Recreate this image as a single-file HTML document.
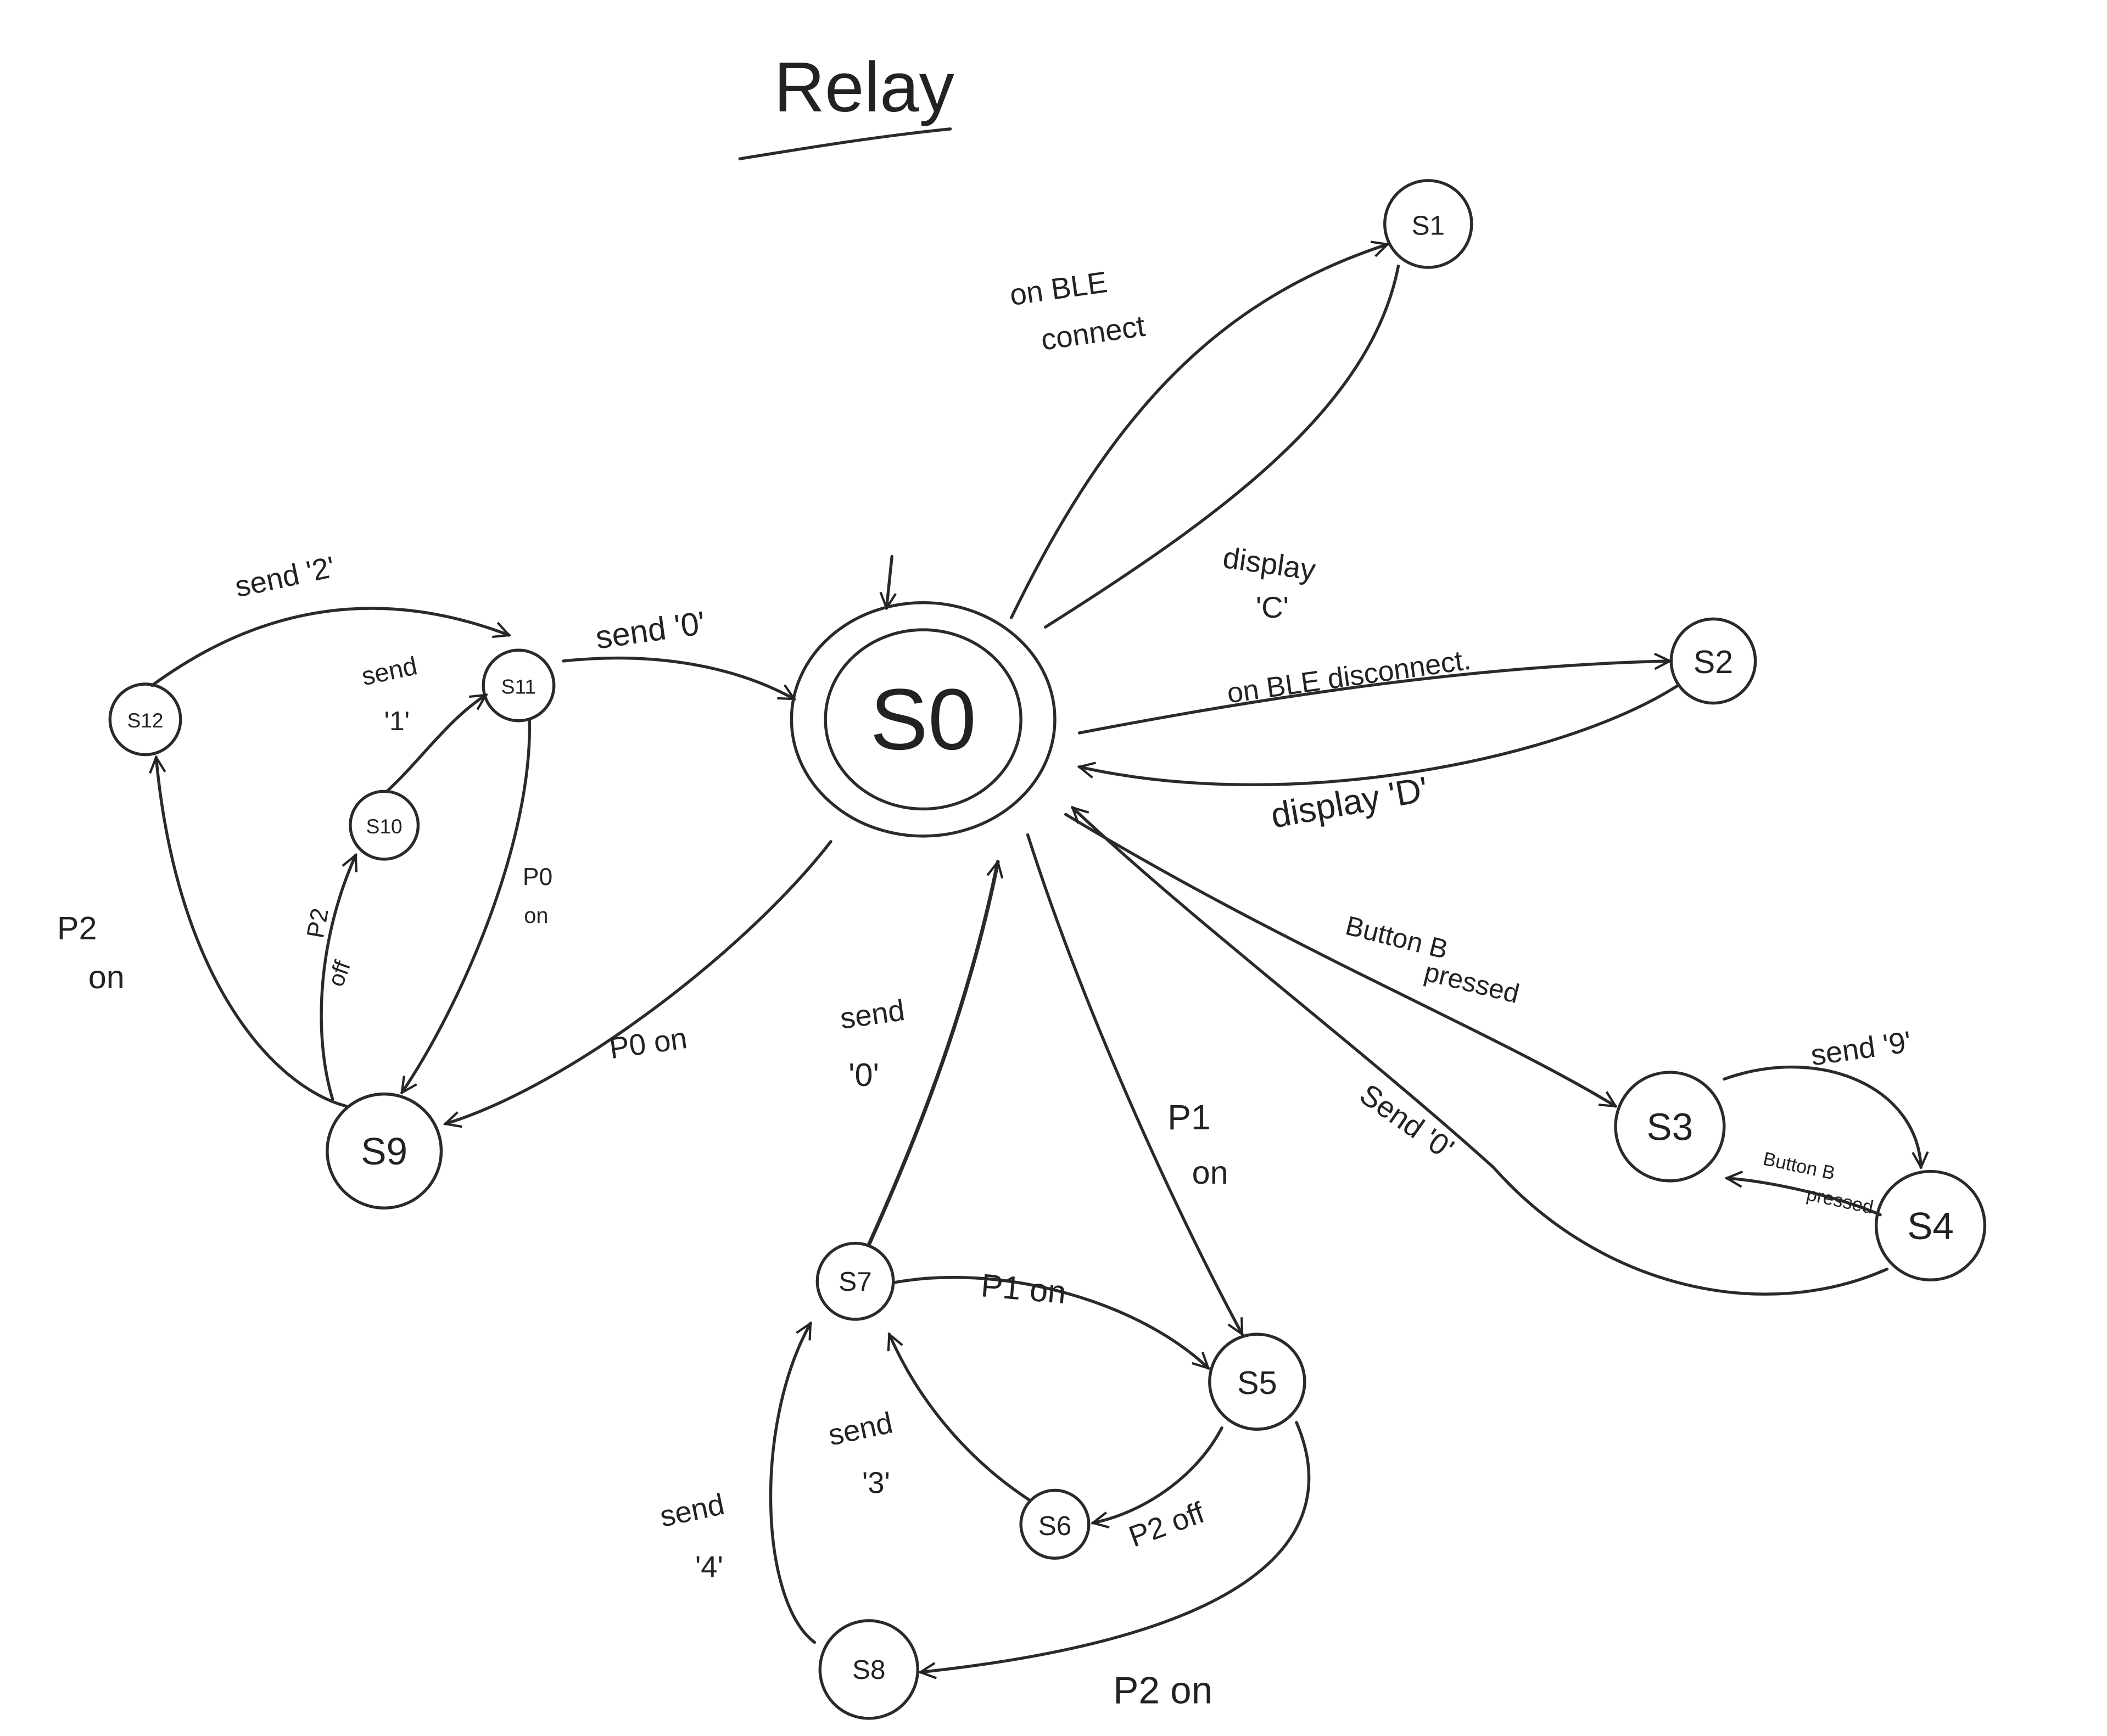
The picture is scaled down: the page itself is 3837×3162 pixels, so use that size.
<!DOCTYPE html>
<html><head><meta charset="utf-8">
<style>
html,body{margin:0;padding:0;background:#fff;}
svg{display:block;}
text{font-family:"Liberation Sans",sans-serif;fill:#222;}
</style></head>
<body>
<svg width="3837" height="3162" viewBox="0 0 1552 1279" xmlns="http://www.w3.org/2000/svg">
<defs>
<marker id="a" viewBox="0 0 20 20" refX="18" refY="10" markerWidth="14" markerHeight="14" markerUnits="userSpaceOnUse" orient="auto">
<path d="M2,2 L18,10 L2,18" fill="none" stroke="#222" stroke-width="2.4"/>
</marker>
</defs>
<rect width="1552" height="1279" fill="#fff"/>
<g fill="none" stroke="#2a2a2a" stroke-width="2.2" stroke-linecap="round">
<path d="M545,117 C600,108 650,100 700,95"/>
<ellipse cx="680" cy="530" rx="97" ry="86"/>
<ellipse cx="680" cy="530" rx="72" ry="66"/>
<circle cx="1052" cy="165" r="32"/>
<circle cx="1262" cy="487" r="31"/>
<circle cx="1230" cy="830" r="40"/>
<circle cx="1422" cy="903" r="40"/>
<circle cx="926" cy="1018" r="35"/>
<circle cx="777" cy="1123" r="25"/>
<circle cx="630" cy="944" r="28"/>
<circle cx="640" cy="1230" r="36"/>
<circle cx="283" cy="848" r="42"/>
<circle cx="283" cy="608" r="25"/>
<circle cx="382" cy="505" r="26"/>
<circle cx="107" cy="530" r="26"/>
<path d="M657,410 L653,448" marker-end="url(#a)"/>
<path d="M745,455 C820,300 900,220 1022,180" marker-end="url(#a)"/>
<path d="M1030,196 C1010,300 900,380 770,462"/>
<path d="M795,540 C950,510 1100,490 1230,487" marker-end="url(#a)"/>
<path d="M1236,505 C1150,560 950,600 795,565" marker-end="url(#a)"/>
<path d="M785,600 C950,700 1100,760 1190,815" marker-end="url(#a)"/>
<path d="M1390,935 C1300,975 1180,950 1100,860 C1000,770 880,680 790,595" marker-end="url(#a)"/>
<path d="M1270,795 C1340,770 1412,800 1415,860" marker-end="url(#a)"/>
<path d="M1385,895 C1350,880 1300,870 1272,868" marker-end="url(#a)"/>
<path d="M757,615 C800,750 870,900 915,983" marker-end="url(#a)"/>
<path d="M640,917 C670,850 712,750 735,635" marker-end="url(#a)" stroke-width="2.8"/>
<path d="M658,945 C740,930 840,960 890,1008" marker-end="url(#a)"/>
<path d="M900,1052 C880,1090 840,1115 805,1122" marker-end="url(#a)"/>
<path d="M758,1105 C720,1080 680,1040 655,983" marker-end="url(#a)"/>
<path d="M955,1048 C990,1130 930,1205 678,1232" marker-end="url(#a)"/>
<path d="M600,1210 C560,1180 555,1050 597,975" marker-end="url(#a)"/>
<path d="M612,620 C550,700 420,800 328,828" marker-end="url(#a)"/>
<path d="M415,487 C480,480 540,490 585,515" marker-end="url(#a)"/>
<path d="M390,531 C392,620 340,740 296,805" marker-end="url(#a)"/>
<path d="M245,810 C230,760 235,690 262,630" marker-end="url(#a)"/>
<path d="M285,583 C310,560 330,530 358,512" marker-end="url(#a)"/>
<path d="M112,505 C160,470 250,420 375,468" marker-end="url(#a)"/>
<path d="M255,815 C200,800 130,720 115,558" marker-end="url(#a)"/>
</g>
<text x="570" y="82" font-size="52">Relay</text>
<text x="680" y="552" font-size="64" text-anchor="middle">S0</text>
<text x="1052" y="173" font-size="20" text-anchor="middle">S1</text>
<text x="1262" y="496" font-size="24" text-anchor="middle">S2</text>
<text x="1230" y="840" font-size="28" text-anchor="middle">S3</text>
<text x="1422" y="913" font-size="28" text-anchor="middle">S4</text>
<text x="926" y="1027" font-size="24" text-anchor="middle">S5</text>
<text x="777" y="1131" font-size="20" text-anchor="middle">S6</text>
<text x="630" y="951" font-size="20" text-anchor="middle">S7</text>
<text x="640" y="1237" font-size="20" text-anchor="middle">S8</text>
<text x="283" y="858" font-size="28" text-anchor="middle">S9</text>
<text x="283" y="614" font-size="15" text-anchor="middle">S10</text>
<text x="382" y="511" font-size="15" text-anchor="middle">S11</text>
<text x="107" y="536" font-size="15" text-anchor="middle">S12</text>
<text x="745" y="225" font-size="22" transform="rotate(-8 745 225)">on BLE</text>
<text x="768" y="258" font-size="22" transform="rotate(-8 768 258)">connect</text>
<text x="900" y="418" font-size="22" transform="rotate(8 900 418)">display</text>
<text x="925" y="455" font-size="22">'C'</text>
<text x="905" y="518" font-size="21" transform="rotate(-8 905 518)">on BLE disconnect.</text>
<text x="938" y="610" font-size="26" transform="rotate(-10 938 610)">display 'D'</text>
<text x="990" y="688" font-size="20" transform="rotate(14 990 688)">Button B</text>
<text x="1048" y="722" font-size="20" transform="rotate(14 1048 722)">pressed</text>
<text x="1000" y="810" font-size="22" transform="rotate(35 1000 810)">Send '0'</text>
<text x="1335" y="785" font-size="22" transform="rotate(-8 1335 785)">send '9'</text>
<text x="1298" y="858" font-size="14" transform="rotate(12 1298 858)">Button B</text>
<text x="1330" y="884" font-size="14" transform="rotate(12 1330 884)">pressed</text>
<text x="860" y="832" font-size="26">P1</text>
<text x="878" y="872" font-size="24">on</text>
<text x="620" y="758" font-size="22" transform="rotate(-8 620 758)">send</text>
<text x="625" y="800" font-size="24">'0'</text>
<text x="722" y="955" font-size="24" transform="rotate(5 722 955)">P1 on</text>
<text x="612" y="1065" font-size="22" transform="rotate(-12 612 1065)">send</text>
<text x="635" y="1100" font-size="22">'3'</text>
<text x="835" y="1140" font-size="22" transform="rotate(-20 835 1140)">P2 off</text>
<text x="488" y="1125" font-size="22" transform="rotate(-12 488 1125)">send</text>
<text x="512" y="1162" font-size="22">'4'</text>
<text x="820" y="1255" font-size="28">P2 on</text>
<text x="450" y="780" font-size="22" transform="rotate(-8 450 780)">P0 on</text>
<text x="440" y="478" font-size="24" transform="rotate(-8 440 478)">send '0'</text>
<text x="175" y="440" font-size="22" transform="rotate(-12 175 440)">send '2'</text>
<text x="268" y="505" font-size="19" transform="rotate(-12 268 505)">send</text>
<text x="283" y="538" font-size="20">'1'</text>
<text x="385" y="652" font-size="18">P0</text>
<text x="386" y="680" font-size="16">on</text>
<text x="238" y="692" font-size="18" transform="rotate(-80 238 692)">P2</text>
<text x="252" y="728" font-size="17" transform="rotate(-70 252 728)">off</text>
<text x="42" y="692" font-size="24">P2</text>
<text x="65" y="728" font-size="24">on</text>
</svg>
</body></html>
